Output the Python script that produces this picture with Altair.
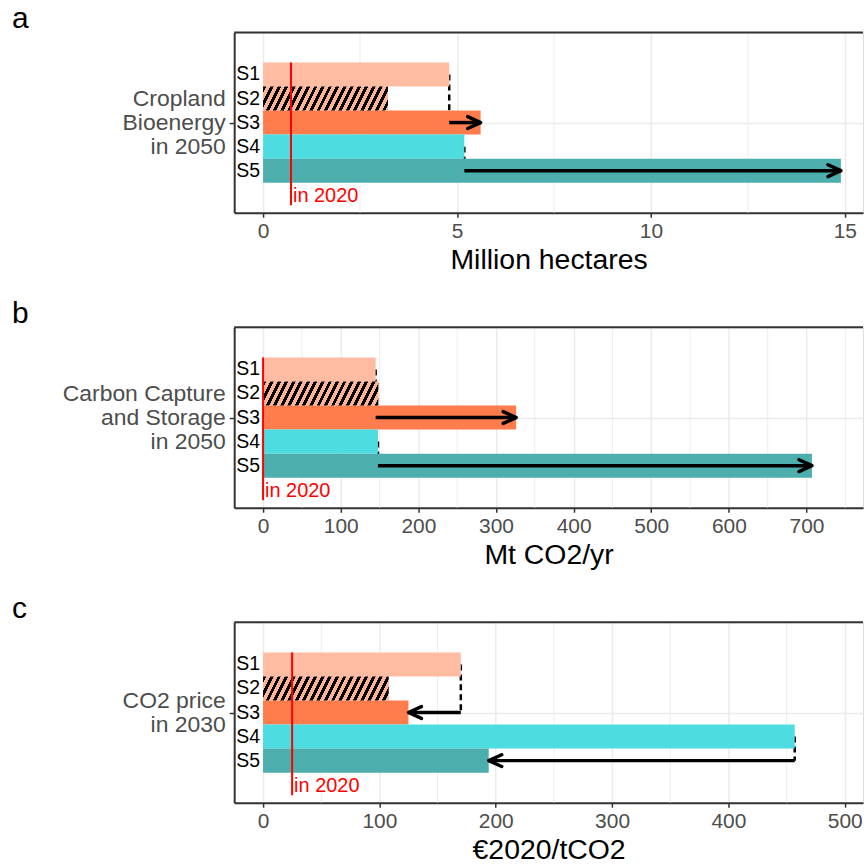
import json
import altair as alt
import pandas as pd

# ---------------- data ----------------
scenarios = ["S1", "S2", "S3", "S4", "S5"]
bioenergy = [4.8, 3.22, 5.61, 5.19, 14.9]          # Million hectares, 2050
ccs = [145, 148.5, 326, 148, 707]                   # Mt CO2/yr, 2050
co2_price = [170, 108, 125, 457, 194]               # EUR2020/tCO2, 2030
value_2020 = [0.72, 0, 25]
panel_letters = ["a", "b", "c"]
variable_lines = [["Cropland", "Bioenergy", "in 2050"],
                  ["Carbon Capture", "and Storage", "in 2050"],
                  ["CO2 price", "in 2030"]]
units = ["Million hectares", "Mt CO2/yr", "€2020/tCO2"]
tick_values = [[0, 5, 10, 15],
               [0, 100, 200, 300, 400, 500, 600, 700],
               [0, 100, 200, 300, 400, 500]]
arrow_pairs = [("S1", "S3"), ("S4", "S5")]
series = [bioenergy, ccs, co2_price]

# ---------------- style ----------------
FONT = "Liberation Sans"
colors = ["#FFBCA2", "#FFBCA2", "#FF7D4D", "#4DDCDF", "#4DAEAE"]
x_domains = [(-0.745, 15.47), (-37.2, 772.8), (-24.8, 515.7)]
W, H = 631, 181
Y_DOM = [0.4, 1.6]
BAR = 0.16
AXIS_GREY = "#333333"
GRID = "#EBEBEB"
LINE_H = 24.5


def hatch(bar_px_w, bar_px_h, period=7.3, frac=0.47, slope=0.5):
    b = slope * bar_px_h / bar_px_w
    s = (1 + b) / (1 + b * b) + 0.03
    T = (period / bar_px_w) / (s * (1 + b * b))
    stops = []
    k = 0
    while k * T < 1:
        t0 = k * T
        t1 = min((k + frac) * T, 1)
        t2 = min((k + 1) * T, 1)
        stops += [alt.GradientStop(offset=t0, color="#000000"),
                  alt.GradientStop(offset=t1, color="#000000"),
                  alt.GradientStop(offset=t1, color="#FFB396"),
                  alt.GradientStop(offset=t2, color="#FFB396")]
        k += 1
    return alt.LinearGradient(gradient="linear", stops=stops,
                              x1=0, y1=0, x2=s, y2=s * b)


def panel(i):
    values = series[i]
    dom = list(x_domains[i])
    px_per_unit = W / (dom[1] - dom[0])

    df = pd.DataFrame({"scenario": scenarios, "value": values})
    df["zero"] = 0.0
    df["yc"] = [1 + BAR * (2 - k) for k in range(len(scenarios))]
    df["y0"] = df["yc"] - BAR / 2
    df["y1"] = df["yc"] + BAR / 2

    lookup = {s: (v, yc) for s, v, yc in zip(df.scenario, df.value, df.yc)}
    arr = pd.DataFrame([
        {"x_from": lookup[a][0], "x_to": lookup[b][0],
         "y_from": lookup[a][1], "y_to": lookup[b][1],
         "dir": "right" if lookup[b][0] > lookup[a][0] else "left"}
        for a, b in arrow_pairs])

    majors = tick_values[i]
    step = majors[1] - majors[0]
    minors = [m + step / 2 for m in majors + [majors[-1] + step]
              if dom[0] < m + step / 2 < dom[1]]
    minor_df = pd.DataFrame({"m": minors})

    n_lines = len(variable_lines[i])
    label_expr = json.dumps(variable_lines[i])

    x_axis = alt.Axis(values=majors, grid=True, gridColor=GRID, gridWidth=1.5,
                      domain=True, domainColor=AXIS_GREY, domainWidth=2,
                      ticks=True, tickColor=AXIS_GREY, tickWidth=1.5, tickSize=4.5,
                      labelColor="#4D4D4D", labelFontSize=21, labelFont=FONT,
                      labelPadding=3, title=units[i], titleFont=FONT,
                      titleFontSize=28.5, titleColor="black", titleFontWeight="normal",
                      titlePadding=4)
    y_axis = alt.Axis(values=[1], labelExpr=label_expr, grid=True, gridColor=GRID,
                      gridWidth=1.5, domain=True, domainColor=AXIS_GREY, domainWidth=2,
                      ticks=True, tickColor=AXIS_GREY, tickWidth=1.5, tickSize=5,
                      labelColor="#4D4D4D", labelFontSize=23, labelFont=FONT,
                      labelLineHeight=LINE_H, labelPadding=4, labelLimit=0,
                      labelOffset=-(n_lines - 1) * LINE_H / 2, title=None)

    def X(field):
        return alt.X(field, scale=alt.Scale(domain=dom, nice=False, zero=False),
                     axis=x_axis)

    def Y(field):
        return alt.Y(field, scale=alt.Scale(domain=Y_DOM, nice=False, zero=False),
                     axis=y_axis)

    minor = alt.Chart(minor_df).mark_rule(color=GRID, strokeWidth=0.9).encode(
        x=X("m:Q"))

    dashes = alt.Chart(arr).mark_rule(color="black", strokeWidth=2.5,
                                      strokeDash=[6, 4]).encode(
        x=X("x_from:Q"), y=Y("y_from:Q"), y2="y_to:Q")

    bars = alt.Chart(df).mark_bar().encode(
        x=X("zero:Q"), x2="value:Q",
        y=Y("y0:Q"), y2="y1:Q",
        color=alt.Color("scenario:N", scale=alt.Scale(domain=scenarios, range=colors),
                        legend=None))

    s2_w = df.loc[df.scenario == "S2", "value"].iloc[0] * px_per_unit
    bar_h = BAR * H / (Y_DOM[1] - Y_DOM[0])
    hatched = alt.Chart(df[df.scenario == "S2"]).mark_bar(
        fill=hatch(s2_w, bar_h)).encode(
        x=X("zero:Q"), x2="value:Q", y=Y("y0:Q"), y2="y1:Q")

    shafts = alt.Chart(arr).mark_rule(color="black", strokeWidth=3.5,
                                      strokeCap="butt").encode(
        x=X("x_from:Q"), x2="x_to:Q", y=Y("y_to:Q"))

    heads = alt.Chart(arr).mark_point(filled=False, color="black", strokeWidth=3.5,
                                      size=140, opacity=1, strokeJoin="round",
                                      strokeCap="round").encode(
        x=X("x_to:Q"), y=Y("y_to:Q"),
        shape=alt.Shape("dir:N", scale=alt.Scale(
            domain=["right", "left"],
            range=["M-2.2,-1L0,0L-2.2,1", "M2.2,-1L0,0L2.2,1"]), legend=None))

    ref_df = pd.DataFrame({"v": [value_2020[i]], "lo": [0.45], "hi": [1.4],
                           "ty": [0.51], "label": ["in 2020"]})
    red_line = alt.Chart(ref_df).mark_rule(color="#FF0000", strokeWidth=2).encode(
        x=X("v:Q"), y=Y("lo:Q"), y2="hi:Q")
    red_text = alt.Chart(ref_df).mark_text(color="#FF0000", font=FONT, fontSize=20,
                                           align="left", baseline="middle", dx=2).encode(
        x=X("v:Q"), y=Y("ty:Q"), text="label:N")

    s_labels = alt.Chart(df).mark_text(color="black", font=FONT, fontSize=19.5,
                                       align="left", baseline="middle").encode(
        x=alt.value(2), y=Y("yc:Q"), text="scenario:N")

    top_border = alt.Chart(pd.DataFrame({"k": [0]})).mark_rule(
        color=AXIS_GREY, strokeWidth=2).encode(
        x=alt.value(0), x2=alt.value(W), y=alt.value(0))

    return alt.layer(minor, dashes, bars, hatched, shafts, heads, red_line,
                     red_text, s_labels, top_border).properties(
        width=W, height=H,
        title=alt.TitleParams(text=panel_letters[i], anchor="start", frame="group",
                              dx=-223, fontSize=30, font=FONT, fontWeight="normal",
                              baseline="bottom", offset=-33, color="black"))


chart = alt.vconcat(panel(0), panel(1), panel(2), spacing=24).properties(
    padding={"left": 11, "top": 2, "right": 0, "bottom": 0}
).configure_view(stroke=None).configure(font=FONT)

chart.save("out.html", embed_options={"renderer": "svg", "actions": False})
